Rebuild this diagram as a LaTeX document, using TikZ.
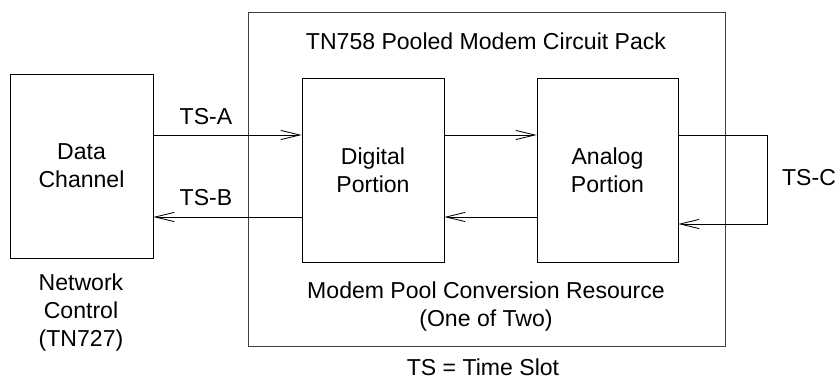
\documentclass[tikz,border=0pt]{standalone}
\usepackage{fontspec}
\setmainfont{Liberation Sans}
\usetikzlibrary{arrows.meta,positioning}
\tikzset{
  % plain outlined block, sizes given per node
  blk/.style  = {rectangle, draw=black, line width=0.6pt, align=center,
                 font=\fontsize{16.4}{19.9}\selectfont, inner sep=0pt},
  frame/.style = {rectangle, draw=black!75, line width=0.7pt, inner sep=0pt},
  arr/.style  = {-{Straight Barb[length=4.75mm, width=2.3mm]}, line width=0.6pt, black},
  tag/.style  = {font=\fontsize{16.4}{19.9}\selectfont, align=center, inner sep=0pt},
}
\begin{document}
\begin{tikzpicture}[x=0.25mm,y=-0.25mm]
\useasboundingbox (0,0) rectangle (838,381);
% circuit pack frame
\node[frame, minimum width=119.25mm, minimum height=83.25mm] (pack) at (486.5,179.5) {};
\node[tag] (packtitle) at (486,41) {TN758 Pooled Modem Circuit Pack};
% blocks
\node[blk, minimum width=35.75mm, minimum height=46mm] (data) at (81.5,166) {Data\\Channel};
\node[blk, minimum width=35.5mm, minimum height=46mm] (dig) at (373,170) {Digital\\Portion};
\node[blk, minimum width=35.25mm, minimum height=46mm] (ana) at (607.5,170) {Analog\\Portion};
% levels of the time slot lines
\coordinate (hi) at (0,135);
\coordinate (lo) at (0,217);
\coordinate (loc) at (0,224);
% time slots
\draw[arr] (data.east |- hi) -- (dig.west |- hi);
\draw[arr] (dig.west |- lo) -- (data.east |- lo);
\draw[arr] (dig.east |- hi) -- (ana.west |- hi);
\draw[arr] (ana.west |- lo) -- (dig.east |- lo);
\draw[arr] (ana.east |- hi) -- ++(89,0) |- (ana.east |- loc);
\node[tag] (tsa) at (206,117) {TS-A};
\node[tag] (tsb) at (206,198) {TS-B};
\node[tag] (tsc) at (809,178) {TS-C};
% captions
\node[tag] (netctl) at (81,313) {Network\\Control\\(TN727)};
\node[tag] (pool) at (486,307) {Modem Pool Conversion Resource\\(One of Two)};
\node[tag] (key) at (483,367) {TS = Time Slot};
\end{tikzpicture}
\end{document}
